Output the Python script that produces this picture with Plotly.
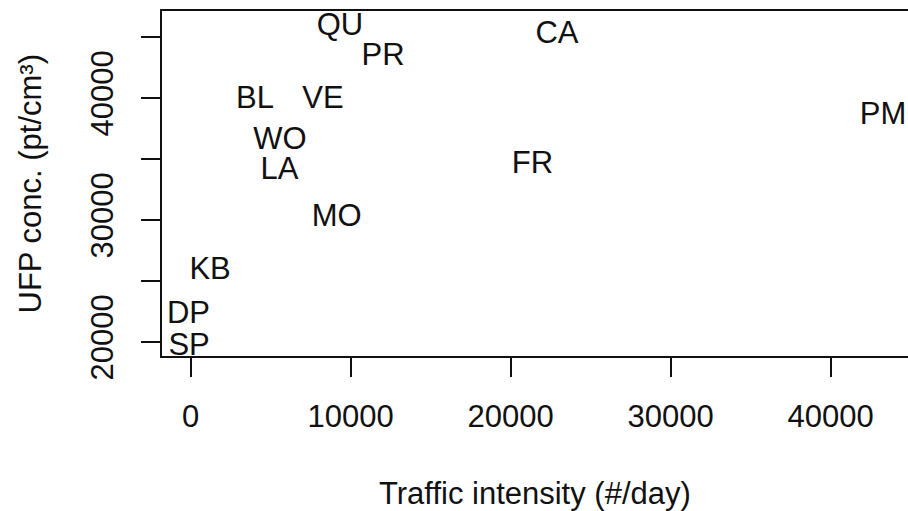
import plotly.graph_objects as go

labels = ["QU", "PR", "BL", "VE", "WO", "LA", "MO", "KB", "DP", "SP", "CA", "FR", "PM"]
traffic = [9330, 12020, 4020, 8270, 5580, 5550, 9120, 1210, -140, -100, 22890, 21360, 43270]
ufp = [45820, 43320, 39790, 39790, 36470, 33970, 30160, 25820, 22170, 19590, 45120, 34460, 38520]

x_ticks = [0, 10000, 20000, 30000, 40000]
y_ticks = [20000, 25000, 30000, 35000, 40000, 45000]
y_tick_text = ["20000", "", "30000", "", "40000", ""]

FONT = "Liberation Sans, Arial, sans-serif"
FS = 31

fig = go.Figure()
fig.add_trace(go.Scatter(
    x=traffic, y=ufp, text=labels, mode="text",
    textposition="middle center",
    textfont=dict(family=FONT, size=FS, color="#111111"),
    cliponaxis=True, hoverinfo="skip", showlegend=False,
))

fig.update_layout(
    width=908, height=511,
    margin=dict(l=162, r=0, t=11, b=155, pad=0),
    paper_bgcolor="white", plot_bgcolor="white",
    font=dict(family=FONT, size=FS, color="#111111"),
    showlegend=False,
)
fig.update_xaxes(
    range=[-1794, 44831], tickvals=x_ticks, ticktext=[str(v) for v in x_ticks],
    showgrid=False, zeroline=False, showline=True, mirror=True,
    linecolor="#111111", linewidth=2,
    ticks="outside", ticklen=19, tickwidth=2, tickcolor="#111111",
    tickfont=dict(family=FONT, size=FS, color="#111111"),
    ticklabelstandoff=13,
)
fig.update_yaxes(
    range=[18852, 47131], tickvals=y_ticks, ticktext=y_tick_text,
    showgrid=False, zeroline=False, showline=True, mirror=False,
    linecolor="#111111", linewidth=2,
    ticks="outside", ticklen=19, tickwidth=2, tickcolor="#111111",
    tickfont=dict(family=FONT, size=FS, color="#111111"),
    tickangle=-90, ticklabelstandoff=16,
)
fig.add_annotation(
    text="Traffic intensity (#/day)", xref="paper", yref="paper",
    x=0.5, y=0, xanchor="center", yanchor="middle", yshift=-137,
    showarrow=False, font=dict(family=FONT, size=FS, color="#111111"),
)
fig.add_annotation(
    text="UFP conc. (pt/cm³)", xref="paper", yref="paper",
    x=0, y=0.5, xanchor="center", yanchor="middle", xshift=-132,
    textangle=-90,
    showarrow=False, font=dict(family=FONT, size=FS, color="#111111"),
)

fig.write_html("out.html")
